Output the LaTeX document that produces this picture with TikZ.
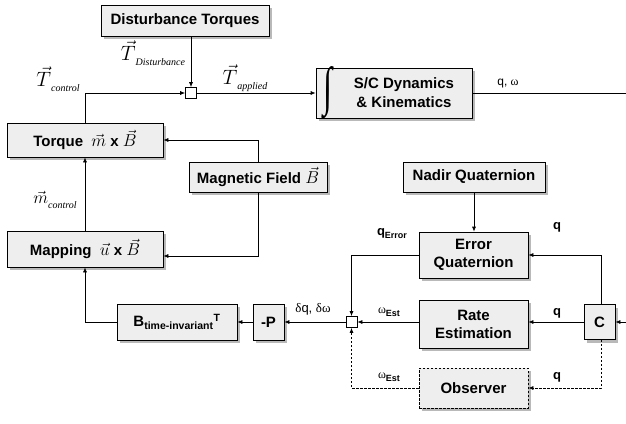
\documentclass[tikz,border=0pt]{standalone}
\usepackage{fontspec}
\setmainfont{Liberation Sans}
\newfontfamily\timesfont{Liberation Serif}
\usetikzlibrary{shadows,arrows.meta,calc}
\begin{document}
\begin{tikzpicture}[x=1pt,y=-1pt,
  blk/.style={draw, fill=gray!13, line width=0.7pt,
    drop shadow={shadow xshift=3pt,shadow yshift=-3pt,fill=gray!55,opacity=1},
    font=\fontsize{15}{18}\selectfont\bfseries, align=center, inner sep=0pt},
  sumb/.style={draw, fill=white, line width=0.7pt, minimum size=11pt, inner sep=0pt},
  arr/.style={-{Latex[length=5pt,width=4pt]}, line width=0.7pt},
  ln/.style={line width=0.7pt},
  dsh/.style={dash pattern=on 2.5pt off 1.5pt},
  lbl/.style={font=\fontsize{13}{15}\selectfont\bfseries, inner sep=0pt},
  vlbl/.style={font=\fontsize{20}{22}\selectfont, inner sep=0pt}
]
\useasboundingbox (0,0) rectangle (626,423);

% blocks
\node[blk, minimum width=156pt, minimum height=50pt] (dyn) at (394,93) {};
\node[blk, minimum width=168pt, minimum height=31pt] (dist) at (185,20.5) {Disturbance Torques};
\node[inner sep=0pt] (dynint) at (328,93) {\resizebox{9pt}{38pt}{\timesfont ∫}};
\node[font=\fontsize{15}{19}\selectfont\bfseries, align=center, inner sep=0pt] (dyntxt) at (404,93) {S/C Dynamics\\\& Kinematics};
\node[blk, minimum width=156pt, minimum height=34pt] (torque) at (85,140) {Torque~~{\fontsize{18}{18}\selectfont$\vec{m}$} x {\fontsize{18}{18}\selectfont$\vec{B}$}};
\node[blk, minimum width=138pt, minimum height=30pt] (mag) at (258,177) {Magnetic Field {\fontsize{18}{18}\selectfont$\vec{B}$}};
\node[blk, minimum width=156pt, minimum height=36pt] (mapping) at (85,249) {Mapping~~{\fontsize{18}{18}\selectfont$\vec{u}$} x {\fontsize{18}{18}\selectfont$\vec{B}$}};
\node[blk, minimum width=142pt, minimum height=30pt] (nadir) at (474,177) {Nadir Quaternion};
\node[blk, minimum width=109pt, minimum height=46pt] (error) at (473.5,255) {Error\\Quaternion};
\node[blk, minimum width=109pt, minimum height=48pt] (rate) at (473.5,324) {Rate\\Estimation};
\node[blk, dsh, minimum width=109pt, minimum height=40pt] (obs) at (473.5,388) {Observer};
\node[blk, minimum width=31pt, minimum height=35pt] (C) at (599.5,322) {C};
\node[blk, minimum width=31pt, minimum height=36pt] (P) at (268.5,322) {-P};
\node[blk, minimum width=120pt, minimum height=36pt] (Bt) at (177,322) {B\textsubscript{time-invariant}\textsuperscript{T}};

% summing junctions
\node[sumb] (sum1) at (191,93) {};
\node[sumb] (sum2) at (351.5,322) {};

\coordinate (qout) at (626,93);
\coordinate (qin) at (626,322);

% connectors
\draw[arr] (dist.south -| sum1) -- (sum1.north);
\draw[arr] (sum1.east) -- (sum1.east -| dyn.west);
\draw[ln] (dyn.east |- qout) -- (qout);
\draw[arr] (torque.north) |- (sum1.west);
\draw[arr] (mapping.north) -- (torque.south);
\draw[arr] (mag.north) |- (torque.east);
\draw[arr] (mag.south) |- ($(mapping.east)+(0,7)$);
\draw[arr] (nadir.south) -- (nadir.south |- error.north);
\draw[arr] ($(C.north)+(2,0)$) |- (error.east);
\draw[arr] (error.west) -| (sum2.north);
\draw[arr] (C.west) -- (C.west -| rate.east);
\draw[arr] (rate.west |- sum2) -- (sum2.east);
\draw[arr,dsh] ($(C.south)+(2,0)$) |- (obs.east);
\draw[arr,dsh] (obs.west) -| (sum2.south);
\draw[arr] (sum2.west) -- (P.east);
\draw[arr] (P.west) -- (Bt.east);
\draw[arr] (Bt.west) -| (mapping.south);
\draw[arr] (qin) -- (C.east);

% labels
\node[vlbl] (lTd) at (153,53) {$\vec{T}$\raisebox{-5pt}{\fontsize{10}{10}\selectfont\timesfont\itshape Disturbance}};
\node[vlbl] (lTa) at (245,78) {$\vec{T}$\raisebox{-5pt}{\fontsize{10}{10}\selectfont\timesfont\itshape applied}};
\node[vlbl] (lTc) at (58,79) {$\vec{T}$\raisebox{-5pt}{\fontsize{10}{10}\selectfont\timesfont\itshape control}};
\node[vlbl] (lmc) at (55,200) {{\fontsize{17}{17}\selectfont$\vec{m}$}\raisebox{-5pt}{\fontsize{10}{10}\selectfont\timesfont\itshape control}};
\node[font=\fontsize{12}{14}\selectfont, inner sep=0pt] (lqw) at (508,84) {q, {\timesfont ω}};
\node[lbl] (lqe) at (392,234) {q\raisebox{-3pt}{\fontsize{9}{9}\selectfont Error}};
\node[lbl] (lq1) at (557,227) {q};
\node[lbl] (lwe1) at (389,312) {{\fontsize{12}{12}\selectfont\mdseries\timesfont ω}\raisebox{-3pt}{\fontsize{9}{9}\selectfont Est}};
\node[lbl] (lq2) at (557,313) {q};
\node[lbl] (lwe2) at (389,377) {{\fontsize{12}{12}\selectfont\mdseries\timesfont ω}\raisebox{-3pt}{\fontsize{9}{9}\selectfont Est}};
\node[lbl] (lq3) at (557,377) {q};
\node[font=\fontsize{13}{15}\selectfont, inner sep=0pt] (ldq) at (313,309) {{\timesfont δ}q, {\timesfont δω}};
\end{tikzpicture}
\end{document}
